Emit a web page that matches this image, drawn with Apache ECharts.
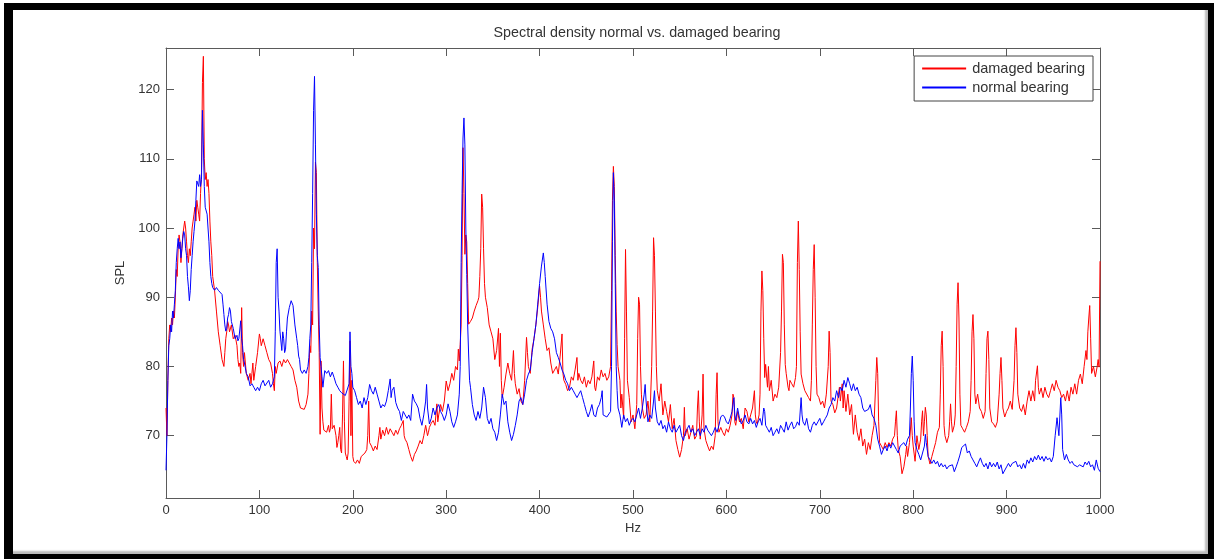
<!DOCTYPE html>
<html>
<head>
<meta charset="utf-8">
<script src="https://cdn.jsdelivr.net/npm/echarts@6/dist/echarts.min.js"></script>
<style>
html,body{margin:0;padding:0;background:#fff;}
#frame{position:absolute;left:4px;top:3px;width:1210px;height:556px;box-sizing:border-box;
border-left:9px solid #000;border-top:7px solid #000;border-right:6px solid #000;border-bottom:5px solid #000;
box-shadow:inset -3px -3px 2px #bbb;}
#chart{position:absolute;left:0;top:0;width:1214px;height:559px;}
</style>
</head>
<body>
<div id="frame"></div>
<div id="chart"></div>
<script>
const titleText = 'Spectral density normal vs. damaged bearing';
const seriesNames = ['damaged bearing', 'normal bearing'];
const xTicks = [0,100,200,300,400,500,600,700,800,900,1000];
const yTicks = [70,80,90,100,110,120];

const damagedBearing = [
[0,74],[1,70],[2,78],[3,84],[4,86],[5,85],[6,87],[7,86],[8,88],[9,87],[10,90],[11,94],[12,93],[13,97],[14,99],[15,98],[16,95],[17,97],[18,99],[19,100],
[20,101],[21,100],[22,98],[23,96],[24,95],[25,97],[26,96],[27,98],[28,100],[29,101],[30,102],[31,103],[32,101],[33,104],[34,103],[35,102],[36,101],[37,105],[38,108],[39,121],
[40,124.8],[41,110],[42,107],[43,108],[44,106],[45,107],[46,105],[47,101],[48,98],[49,96],[50,93],[52,91],[54,88],[56,85],[58,83],[60,81],[61,80.5],[62,80],[63,82],[64,84],
[65,85],[66,86.5],[67,86],[68,85],[70,86],[72,84],[74,84.5],[76,83],[77,81],[78,80],[79,80.5],[80,79],[81,88.5],[82,82],[83,80],[84,82],[86,79],[88,78],[90,79],[91,77.5],
[92,79],[93,80.5],[94,78],[96,80],[98,82],[100,84.7],[101,84],[102,83],[104,84],[106,83],[108,82],[110,81],[112,80.5],[114,79],[115,77.5],[116,76.5],[117,80],[118,79],[120,80.5],[122,80.8],
[124,80],[126,81],[128,80.5],[130,81],[132,80.8],[134,80],[136,79.5],[138,78],[140,77],[142,75],[144,74],[146,74.2],[148,73.8],[150,74.5],[152,76],[153,79],[154,83],[155,82],[156,88],[157,86],
[158,100],[159,97],[160,109.5],[161,108],[162,95],[163,88],[164,82],[165,70.2],[166,80.8],[167,74],[168,72],[169,70.8],[170,71],[172,70.5],[174,71.5],[175,70.5],[176,71],[177,76],[178,71],[180,71.5],
[182,70],[183,68.3],[184,69],[185,70],[186,71.2],[187,68],[188,67.5],[189,73],[190,80.8],[191,72],[192,67.5],[193,67],[194,66.5],[195,67.5],[196,75],[197,83.7],[198,70],[199,78],[200,67],[201,66.3],
[203,66],[205,66.5],[207,66],[209,67],[211,66.8],[213,67.5],[215,68],[216,70],[217,75],[218,69],[220,68.5],[222,67.8],[224,68.5],[226,68],[228,70],[229,71.2],[230,69.5],[232,70.8],[234,70],[236,71.2],
[238,70.2],[240,71],[242,70.5],[244,70],[246,70.8],[248,70.2],[250,71],[252,71.5],[254,72.2],[255,70],[256,69.5],[258,69],[260,68],[262,67],[264,66.3],[266,67.3],[268,67.8],[270,68.5],[272,69.3],[274,68.8],
[276,70],[278,71.5],[280,70],[281,70.5],[282,71.2],[284,71.8],[286,72.2],[288,71.5],[290,74.6],[291,72],[292,73],[294,74.5],[296,73.5],[298,75],[300,77.9],[302,76.5],[304,77.5],[306,79],[308,78],[310,80],
[312,79.5],[313,82.5],[314,80.8],[315,83.2],[316,86],[317,96],[318,111.6],[319,105],[320,96.2],[321,99],[322,98],[323,92],[324,86.1],[326,86.5],[328,87],[330,88],[332,88.8],[334,89.5],[335,90],[336,93],
[337,97],[338,104.9],[339,103],[340,97],[341,92],[342,90],[344,88.5],[346,86],[348,85],[350,84],[352,81],[354,82.3],[356,85.5],[357,80],[358,84.8],[359,78],[360,75.5],[362,77],[364,78.9],[366,80.5],
[368,79],[370,78],[372,82.3],[373,79],[374,77.5],[376,76],[378,76.8],[380,75],[382,74.5],[384,78],[386,84.2],[387,82],[388,80],[390,79],[392,82.5],[394,84],[396,86],[398,88.5],[400,91.6],[401,90],
[402,88],[404,86],[406,84],[408,82.3],[410,82.7],[412,80.5],[414,79],[416,79.5],[418,80],[420,78.9],[422,81.5],[424,84.7],[425,79],[426,78],[428,77.4],[430,76.5],[432,77],[434,78.5],[436,78],[438,79.5],
[440,81.3],[441,78],[442,79],[444,78],[446,77.5],[448,78.5],[450,77],[452,78],[454,77.5],[456,78.5],[458,80.8],[459,77],[460,76.5],[462,78.5],[464,78],[466,79.5],[468,78.5],[470,79],[472,78],[474,78.5],
[476,80],[477,91],[478,104],[479,108.9],[480,106],[481,96],[482,88],[483,83.2],[484,80],[486,78],[487,74],[488,76],[490,72.5],[491,84],[492,96.9],[493,88],[494,78],[496,75.5],[498,72],[500,73],
[502,71],[504,74.5],[505,84],[506,90],[507,89],[508,80],[509,76],[510,74],[512,72.5],[514,73],[516,75],[518,72],[520,80],[521,88],[522,98.6],[523,96],[524,88],[525,80],[526,76.5],[528,75],
[530,77.5],[532,73],[534,75],[536,73.5],[538,72],[540,74.5],[542,71],[544,72.5],[546,69.3],[548,68],[550,66.9],[552,68],[554,70],[555,74.1],[556,70],[558,71],[560,69.5],[562,70.5],[564,71.5],[566,69.5],
[568,70],[569,74],[570,76.5],[571,72],[572,69.5],[574,73],[575,78.9],[576,71],[578,69.3],[580,68.5],[582,67.8],[584,68.5],[586,68],[588,70],[589,76],[590,79.1],[591,72],[592,70.5],[594,71.2],[596,70.5],
[598,70],[600,71],[602,70.5],[604,71.5],[606,73],[607,76],[608,75.5],[609,72],[610,71.5],[612,73.5],[614,72],[616,72.5],[618,71],[620,74],[622,73.5],[624,72],[626,73],[628,74],[630,76.5],[631,73],
[632,72],[633,71.7],[635,73],[636,76],[637,88],[638,93.8],[639,91],[640,84],[641,78.4],[642,80.3],[644,77],[645,80],[646,76.5],[648,78],[650,75],[652,76],[654,75.5],[656,77],[658,82],[659,88],
[660,96.2],[661,95],[662,86],[663,80.3],[664,79],[666,77],[667,76.5],[668,78],[670,77.5],[672,77],[674,78.4],[675,80],[676,95],[677,101],[678,94],[679,85],[680,78.9],[682,77.5],[684,76.5],[686,76.7],
[688,75.5],[690,75],[691,78],[692,86],[693,94],[694,97.6],[695,90],[696,80],[697,76],[699,75.5],[701,74.5],[703,75],[705,74],[707,76],[709,80],[710,85.1],[711,82],[712,75],[714,74.5],[716,73.3],
[718,74],[720,76],[721,77],[722,75],[724,77.5],[725,74],[726,76.5],[728,73.5],[730,76],[732,73],[734,74.5],[736,70.2],[738,73],[740,70.5],[742,69.3],[744,71],[746,68.5],[748,69.5],[750,67.3],[752,69],
[754,68],[756,70],[758,71.5],[760,78],[761,81.3],[762,79],[763,72],[764,69],[766,68.5],[768,68],[770,69],[772,68.3],[774,69],[776,68.5],[778,69.5],[780,70],[781,72],[782,73.6],[783,70],[784,68],
[786,67],[788,64.5],[790,65.5],[792,67.3],[793,68.5],[794,67],[796,69],[798,72.6],[799,70],[800,68.5],[802,66.3],[804,70],[806,68],[808,69.5],[809,72],[810,73.6],[811,70],[812,72],[813,74.1],[814,73],
[815,70],[816,67],[818,65.9],[820,67],[822,68],[824,69],[826,70.5],[828,71.2],[829,76],[830,83],[831,85.1],[832,80],[833,71.5],[834,70],[836,69],[838,70],[839,72],[840,74.6],[841,72],[842,70.5],
[844,71.5],[845,73],[846,80],[847,89],[848,92.1],[849,87],[850,76],[851,71.5],[853,71],[855,70.5],[857,71.2],[859,72],[861,73.5],[862,78],[863,85],[864,87.5],[865,84],[866,76],[867,74.6],[869,76],
[871,74],[873,73.5],[875,72.5],[877,73.5],[878,79],[879,84],[880,85.1],[881,81],[882,74],[884,72],[886,71.7],[888,71.2],[890,72],[892,76],[893,79],[894,81.3],[895,78],[896,74],[898,72.7],[900,73.5],
[902,74],[904,75],[906,73.8],[908,78],[909,83],[910,85.6],[911,82],[912,76],[914,74],[916,73.5],[918,74.5],[920,73],[922,75],[924,76.5],[926,75],[928,76.5],[930,75],[931,78],[933,80.1],[934,77],
[935,76],[937,76.9],[939,75.5],[941,77],[943,76],[945,75.5],[947,76.5],[949,77.5],[951,76.5],[953,78],[955,77],[957,76.5],[959,75.5],[961,76],[963,75],[965,76.5],[967,75],[969,77],[971,76],[973,77.5],
[975,76],[977,78],[979,78.9],[981,77.5],[983,80],[985,82.3],[986,81],[987,85],[988,87],[989,88.8],[990,84],[991,79],[993,80],[995,78.5],[997,80],[998,81],[999,79.9],[1000,95.2]
];

const normalBearing = [
[0,65],[1,70],[2,78],[3,83],[4,84],[5,86],[6,85],[7,88],[8,87],[9,89],[10,91],[11,95],[12,97],[13,98.5],[14,97],[15,98],[16,95.7],[17,97],[18,98.5],[19,99.5],
[20,99],[21,97],[22,96],[23,93],[24,91.5],[25,89.5],[26,91],[27,94],[28,96],[29,98],[30,99.5],[31,101],[32,104],[33,106.8],[34,107],[35,106],[36,107.7],[37,106],[38,107],[39,117],
[40,112],[41,106],[42,103],[43,102.9],[44,102],[45,100],[46,98],[47,95],[48,93],[49,92],[50,91.4],[52,91],[54,91.4],[56,91],[58,90.8],[60,90.4],[61,89],[62,87.5],[63,86],[64,85.1],
[65,85.5],[66,87],[67,87.5],[68,88.5],[69,88],[70,86.5],[72,85.5],[74,84],[76,84.5],[77,83.7],[78,84],[80,86.6],[81,84],[82,83],[83,81],[84,80.5],[86,79],[88,78.5],[90,77.2],[92,77.5],
[94,77],[96,76.5],[98,77],[100,76.5],[102,77.5],[104,78],[106,77.2],[108,77],[110,78],[112,77],[114,77.5],[116,78.5],[117,85],[118,95],[119,97],[120,90],[121,88],[122,85.1],[124,82.3],[125,85],
[126,84],[127,82],[128,82.5],[129,85],[130,87],[132,88.5],[134,89.5],[136,88.8],[138,86],[140,84],[141,83],[142,81.5],[143,81],[144,79.5],[146,79],[148,79.5],[150,79],[152,80],[153,81.3],[154,84],
[155,86],[156,95],[157,105],[158,117],[159,121.9],[160,112],[161,102],[162,96],[163,94.3],[164,86],[165,81.3],[166,80],[167,78.5],[168,77],[170,79.4],[172,79],[174,79.4],[176,78.5],[178,79.2],[180,78.4],
[182,77.5],[184,77],[186,76.5],[188,76.2],[190,76],[192,75.8],[194,76],[196,77.5],[197,85],[198,80],[199,79],[200,77],[202,76.5],[204,75.5],[206,74.5],[208,75],[210,74],[212,75.5],[214,74.5],[216,75.5],
[218,77.4],[220,76.5],[222,76],[224,77],[226,76],[228,75],[230,74],[232,74.5],[234,74.2],[236,75],[238,76.5],[240,78.2],[241,75.5],[242,76.5],[244,77],[246,74.8],[248,74],[250,73.5],[252,72.2],[254,73.5],
[256,73],[258,72.5],[260,73],[262,72.2],[264,76],[266,75],[268,74.6],[270,74],[272,72.5],[274,71.5],[276,73],[278,75],[279,77.4],[280,74],[282,71.7],[284,72.5],[286,74],[288,73],[290,74],[292,74.5],
[294,73.5],[296,73],[298,72.2],[300,73],[302,74.6],[304,73.5],[306,72],[308,71.2],[310,72],[312,73],[314,76],[315,80],[316,95],[317,105],[318,113],[319,115.9],[320,112],[321,100],[322,93.3],[323,86],
[324,81.8],[325,78],[326,77],[328,74.5],[330,73],[332,72.2],[334,73.5],[336,72.5],[338,74],[340,77],[342,75.5],[344,72.5],[346,71.7],[348,72.5],[350,71],[352,70.5],[354,69.3],[356,70.5],[358,73],[360,76],
[362,74.5],[364,75],[366,72],[368,70.5],[370,69.3],[372,70.2],[374,71.5],[376,73],[378,75],[380,75.5],[382,74.5],[384,76],[386,78],[388,78.9],[390,79.5],[392,82],[394,84],[396,86],[398,89],[400,92],
[402,94.5],[404,96.4],[405,95],[406,93],[408,89],[410,86.5],[412,85.5],[414,85],[416,84],[418,82],[420,81.3],[422,80.5],[424,79.5],[426,78.9],[428,78],[430,77.5],[432,76.5],[434,77],[436,76.5],[438,76],
[440,75.5],[442,76],[444,76.5],[446,75.5],[448,74.5],[450,73.5],[452,72.7],[454,73.5],[456,74.5],[458,73],[460,72.7],[462,74],[464,74.5],[466,75.5],[467,76.5],[468,73],[470,72.8],[472,72.7],[474,72.5],[476,73.5],
[477,80],[478,98],[479,108],[480,104],[481,92],[482,80],[483,76.5],[484,74],[486,73],[488,71.2],[490,73],[492,72],[494,72.5],[496,71.5],[498,72.2],[500,72.5],[502,72],[504,73],[506,74],[508,72.5],
[510,74],[512,76],[513,77.4],[514,75],[516,72],[518,73],[520,72.5],[522,75],[523,76.5],[524,74],[526,72],[528,71.5],[530,72.2],[532,71],[534,71.5],[536,70.5],[538,72],[540,71],[542,70.5],[544,71.5],
[546,70.5],[548,71],[550,71.5],[552,70],[554,69.3],[556,70.5],[558,71],[560,71.5],[562,70.5],[564,71],[566,70],[568,70.5],[570,71],[572,70],[574,71],[576,70.5],[578,71.5],[580,70.8],[582,71],[584,70],
[586,70.5],[588,71.2],[590,70.5],[592,71.5],[594,72.7],[596,73],[598,72.7],[600,72],[602,71.7],[604,72.5],[606,73.5],[608,75.5],[609,73],[610,72.2],[612,74],[614,72.5],[616,71.7],[618,72.2],[620,73],[622,72],
[624,71.7],[626,72.5],[628,71.7],[630,72.2],[632,71.2],[634,72],[636,72.5],[638,71.5],[640,74],[641,73.5],[642,71.5],[644,71],[646,70.5],[648,71.2],[650,70],[652,70.5],[654,71],[656,70.3],[658,71.5],[660,71],
[662,70.5],[664,72],[666,70.8],[668,71.5],[670,72],[672,71],[674,71.3],[676,72],[678,71.5],[680,75.5],[681,73],[682,72],[684,71.5],[686,72.5],[688,71],[690,70.5],[692,71.5],[694,72],[696,71.5],[698,72],
[700,72.5],[702,71.5],[704,72],[706,72.5],[708,73],[710,74],[712,74.5],[714,75.5],[716,75],[718,76.5],[720,75.5],[722,77],[724,76.5],[726,78],[728,77],[730,78.4],[732,77.5],[734,76.5],[736,77.5],[738,76.5],
[740,77],[742,76],[744,75.5],[746,74],[748,73.5],[750,73.3],[752,73.8],[754,74.5],[756,73],[758,72.5],[760,71.5],[762,69.5],[764,68.5],[766,67.3],[768,68],[770,68.5],[772,67.8],[774,68.8],[776,68.2],[778,69],
[780,68.5],[782,68],[784,67.5],[786,68.5],[788,68.3],[790,69],[792,68.5],[794,69.5],[796,70],[797,74],[798,79],[799,81.5],[800,78],[801,72],[802,69],[804,68],[806,67.3],[808,66.5],[810,67.5],[812,68.5],
[813,70.2],[814,69],[816,67],[818,66.5],[820,66],[822,66.5],[824,65.9],[826,66.3],[828,65.5],[830,66],[832,65.5],[834,65.8],[836,65.2],[838,65.6],[840,65.5],[842,65.8],[844,64.8],[846,65.5],[848,66.3],[850,67.2],
[852,68.3],[854,68.5],[856,68.8],[858,67.5],[860,67.8],[862,67],[864,66.5],[866,66],[868,65.5],[870,66.2],[872,66.8],[874,66],[876,65.5],[878,66],[880,65.2],[882,66.2],[884,65.5],[886,66],[888,65.5],[890,66.2],
[892,65.2],[894,65.8],[896,64.5],[898,64.3],[900,65.5],[902,66],[904,65.5],[906,66],[908,65.8],[910,66.3],[912,65.5],[914,65.8],[916,65.2],[918,66],[920,65.3],[922,66.5],[924,66],[926,66.8],[928,66.2],[930,67],
[932,66.5],[934,67.2],[936,66.5],[938,67],[940,66.3],[942,67],[944,66.5],[946,66.8],[948,66.2],[950,67],[952,70],[954,72.6],[956,70],[958,75.5],[959,73],[960,68],[962,66.5],[964,67.3],[966,66.5],[968,66],
[970,66.3],[972,65.8],[974,66],[976,65.5],[978,65.8],[980,66],[982,65.5],[984,66.2],[986,65.8],[988,66.3],[990,65.5],[992,65.8],[994,65],[996,66.5],[998,65.3],[1000,64.8]
];

const chart = echarts.init(document.getElementById('chart'), null, {renderer: 'canvas'});
const FONT = 'Liberation Sans, Arial, Helvetica, sans-serif';
const TXT = '#333';
const AX = '#5a5a5a';
const tickCommon = {show: true, inside: true, length: 8, lineStyle: {color: AX, width: 1}};

chart.setOption({
  backgroundColor: 'transparent',
  animation: false,
  title: {
    text: titleText, left: 632, top: 21, textAlign: 'center',
    textStyle: {fontFamily: FONT, fontSize: 14.3, fontWeight: 'normal', color: TXT}
  },
  legend: {
    data: seriesNames.map(n => ({name: n, icon: 'rect'})),
    orient: 'vertical', right: 121, top: 56,
    backgroundColor: '#fff', borderColor: '#444', borderWidth: 1, borderRadius: 0,
    padding: [5, 8, 6, 8], itemGap: 4, itemWidth: 44, itemHeight: 2,
    textStyle: {fontFamily: FONT, fontSize: 14.5, color: TXT, padding: [0, 0, 0, 1]}
  },
  grid: {left: 166, right: 114, top: 48, bottom: 61, containLabel: false},
  xAxis: [{
    type: 'value', min: 0, max: 1000, interval: 100, position: 'bottom',
    name: 'Hz', nameLocation: 'middle', nameGap: 21,
    nameTextStyle: {fontFamily: FONT, fontSize: 13, color: TXT},
    axisLine: {show: true, onZero: false, lineStyle: {color: AX, width: 1}},
    axisTick: tickCommon,
    axisLabel: {fontFamily: FONT, fontSize: 13, color: TXT, margin: 6,
      customValues: xTicks, formatter: v => String(v)},
    splitLine: {show: false}
  }, {
    type: 'value', min: 0, max: 1000, interval: 100, position: 'top',
    axisLine: {show: true, onZero: false, lineStyle: {color: AX, width: 1}},
    axisTick: tickCommon, axisLabel: {show: false}, splitLine: {show: false}
  }],
  yAxis: [{
    type: 'value', min: 61, max: 126, position: 'left',
    name: 'SPL', nameLocation: 'middle', nameGap: 38, nameRotate: 90,
    nameTextStyle: {fontFamily: FONT, fontSize: 13, color: TXT},
    axisLine: {show: true, onZero: false, lineStyle: {color: AX, width: 1}},
    axisTick: Object.assign({}, tickCommon, {customValues: yTicks}),
    axisLabel: {fontFamily: FONT, fontSize: 13, color: TXT, margin: 6, customValues: yTicks},
    splitLine: {show: false}
  }, {
    type: 'value', min: 61, max: 126, position: 'right',
    axisLine: {show: true, onZero: false, lineStyle: {color: AX, width: 1}},
    axisTick: Object.assign({}, tickCommon, {customValues: yTicks}),
    axisLabel: {show: false}, splitLine: {show: false}
  }],
  series: [{
    name: seriesNames[0], type: 'line', data: damagedBearing, xAxisIndex: 0, yAxisIndex: 0,
    symbol: 'none', showSymbol: false, color: '#ff0000',
    lineStyle: {color: '#ff0000', width: 1}, z: 2
  }, {
    name: seriesNames[1], type: 'line', data: normalBearing, xAxisIndex: 0, yAxisIndex: 0,
    symbol: 'none', showSymbol: false, color: '#0000ff',
    lineStyle: {color: '#0000ff', width: 1}, z: 3
  }]
});
</script>
</body>
</html>
